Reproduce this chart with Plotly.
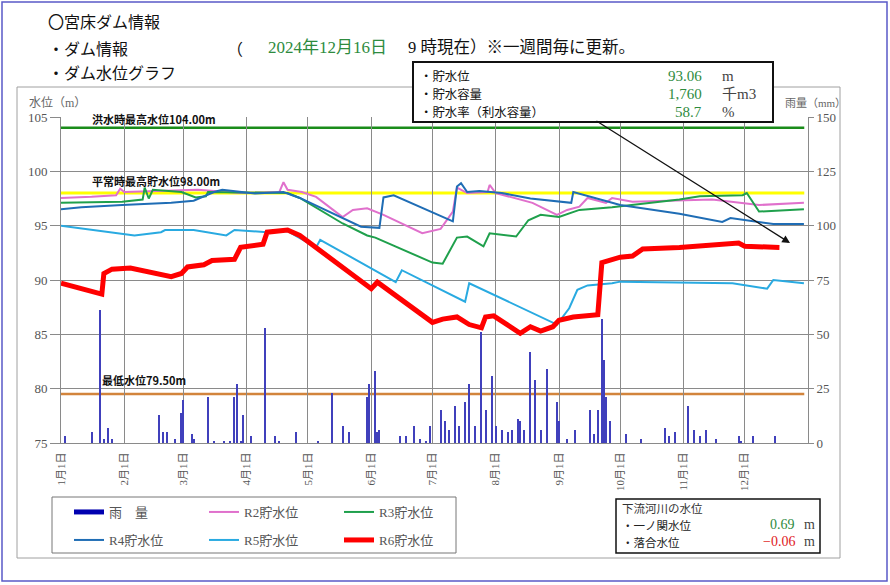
import plotly.graph_objects as go
import pandas as pd

# ---------------- data ----------------
month_starts = ["2024-01-01", "2024-02-01", "2024-03-01", "2024-04-01", "2024-05-01", "2024-06-01",
                "2024-07-01", "2024-08-01", "2024-09-01", "2024-10-01", "2024-11-01", "2024-12-01"]
month_labels = ["1月1日", "2月1日", "3月1日", "4月1日", "5月1日", "6月1日",
                "7月1日", "8月1日", "9月1日", "10月1日", "11月1日", "12月1日"]

r2_dates = ["2024-01-01", "2024-01-16", "2024-01-28", "2024-01-30", "2024-02-01", "2024-03-08", "2024-03-29",
            "2024-04-17", "2024-04-19", "2024-04-21", "2024-04-28", "2024-05-05", "2024-05-13", "2024-05-18",
            "2024-05-23", "2024-05-30", "2024-06-07", "2024-06-26", "2024-07-05", "2024-07-11", "2024-07-13",
            "2024-07-18", "2024-07-28", "2024-07-29", "2024-08-01", "2024-08-19", "2024-08-31", "2024-09-05",
            "2024-09-11", "2024-09-15", "2024-09-24", "2024-09-27", "2024-10-07", "2024-11-15", "2024-12-08",
            "2024-12-30"]
r2_vals = [97.55, 97.65, 97.8, 98.4, 98.1, 98.3, 98.0,
           98.1, 99.0, 98.3, 98.1, 97.65, 96.5, 95.8,
           96.45, 96.6, 96.0, 94.3, 94.7, 96.3, 98.5,
           98.0, 98.1, 98.75, 98.0, 97.1, 96.0, 96.45,
           96.75, 97.55, 97.1, 97.55, 97.2, 97.4, 96.9,
           97.1]

r3_dates = ["2024-01-01", "2024-01-31", "2024-02-10", "2024-02-11", "2024-02-13", "2024-02-15", "2024-02-29",
            "2024-03-07", "2024-03-12", "2024-03-13", "2024-04-21", "2024-04-27", "2024-05-18", "2024-05-30",
            "2024-06-03", "2024-07-01", "2024-07-06", "2024-07-09", "2024-07-13", "2024-07-18", "2024-07-26",
            "2024-07-29", "2024-08-11", "2024-08-17", "2024-08-23", "2024-09-01", "2024-09-11", "2024-09-27",
            "2024-10-30", "2024-11-09", "2024-11-30", "2024-12-02", "2024-12-08", "2024-12-30"]
r3_vals = [97.1, 97.2, 97.4, 98.5, 97.5, 98.3, 98.1,
           97.6, 97.7, 98.1, 98.0, 97.55, 95.2, 94.1,
           93.9, 91.6, 91.5, 92.5, 93.9, 94.0, 93.1,
           94.3, 94.0, 95.5, 96.0, 95.8, 96.45, 96.7,
           97.4, 97.7, 97.8, 98.0, 96.3, 96.5]

r4_dates = ["2024-01-01", "2024-01-11", "2024-01-31", "2024-02-24", "2024-03-06", "2024-03-16", "2024-03-20",
            "2024-04-05", "2024-04-19", "2024-04-27", "2024-05-27", "2024-06-05", "2024-06-07", "2024-06-12",
            "2024-07-11", "2024-07-13", "2024-07-15", "2024-07-18", "2024-07-24", "2024-08-04", "2024-08-18",
            "2024-09-07", "2024-09-08", "2024-09-18", "2024-10-01", "2024-10-30", "2024-11-20", "2024-11-24",
            "2024-12-02", "2024-12-15", "2024-12-30"]
r4_vals = [96.5, 96.7, 96.9, 97.1, 97.3, 98.1, 98.3,
           97.95, 98.1, 97.55, 94.9, 94.8, 97.6, 97.8,
           95.4, 98.6, 98.9, 98.1, 98.2, 98.0, 97.5,
           97.1, 98.1, 97.6, 96.9, 96.1, 95.35, 95.7,
           95.5, 95.15, 95.15]

r5_dates = ["2024-01-01", "2024-02-06", "2024-02-19", "2024-02-21", "2024-03-06", "2024-03-22", "2024-03-26",
            "2024-04-11", "2024-04-21", "2024-05-05", "2024-05-07", "2024-06-13", "2024-06-16", "2024-07-17",
            "2024-07-19", "2024-08-31", "2024-09-06", "2024-09-10", "2024-09-15", "2024-09-27", "2024-10-01",
            "2024-11-25", "2024-12-12", "2024-12-15", "2024-12-30"]
r5_vals = [95.0, 94.1, 94.4, 94.6, 94.6, 94.1, 94.6,
           94.4, 94.5, 93.0, 93.7, 89.8, 90.9, 88.0,
           89.7, 85.9, 87.4, 89.1, 89.5, 89.7, 89.85,
           89.7, 89.2, 90.0, 89.7]

r6_dates = ["2024-01-01", "2024-01-21", "2024-01-22", "2024-01-26", "2024-02-04", "2024-02-24", "2024-02-29",
            "2024-03-03", "2024-03-11", "2024-03-15", "2024-03-26", "2024-03-29", "2024-04-09", "2024-04-11",
            "2024-04-21", "2024-04-27", "2024-06-01", "2024-06-04", "2024-07-01", "2024-07-06", "2024-07-13",
            "2024-07-19", "2024-07-25", "2024-07-27", "2024-07-31", "2024-08-13", "2024-08-18", "2024-08-23",
            "2024-08-29", "2024-09-01", "2024-09-08", "2024-09-20", "2024-09-22", "2024-10-01", "2024-10-07",
            "2024-10-12", "2024-10-30", "2024-11-15", "2024-11-28", "2024-12-01", "2024-12-18"]
r6_vals = [89.7, 88.7, 90.6, 91.0, 91.1, 90.3, 90.6,
           91.2, 91.4, 91.8, 91.9, 93.0, 93.3, 94.4,
           94.6, 94.1, 89.2, 89.8, 86.1, 86.4, 86.6,
           85.9, 85.6, 86.6, 86.7, 85.1, 85.7, 85.3,
           85.7, 86.3, 86.6, 86.8, 91.6, 92.1, 92.2,
           92.85, 93.0, 93.2, 93.4, 93.1, 93.0]

# rainfall: day of year (0 = Jan 1) and mm
rain_day = [2, 15, 19, 21, 23, 25, 48, 50, 52, 56, 59, 60, 64, 65, 72, 75, 80, 83, 85, 86, 88, 89, 93,
            100, 105, 107, 115, 126, 133, 138, 141, 150, 151, 154, 155, 156, 166, 169, 173, 176, 179,
            181, 186, 188, 190, 193, 195, 198, 200, 203, 206, 208, 211, 213, 216, 219, 221, 224, 225,
            227, 230, 232, 235, 238, 243, 244, 248, 252, 259, 261, 263, 265, 266, 267, 269, 277, 284,
            296, 298, 301, 307, 310, 313, 316, 321, 332, 333, 339, 350]
rain_mm = [3, 5, 61, 2, 7, 2, 13, 5, 5, 2, 14, 20, 4, 2, 21, 1, 1, 1, 21, 27, 1, 13, 3,
           53, 3, 1, 5, 1, 23, 8, 5, 21, 27, 33, 5, 6, 3, 3, 8, 2, 1,
           8, 15, 10, 6, 17, 8, 19, 27, 8, 51, 15, 31, 8, 6, 5, 6, 11, 10,
           6, 42, 29, 6, 34, 19, 10, 2, 6, 15, 4, 15, 57, 38, 21, 10, 4, 2,
           7, 3, 5, 17, 6, 3, 6, 2, 3, 1, 3, 3]

flood_level = 104.0
normal_level = 98.0
min_level = 79.5

# ---------------- geometry helpers (pixel -> paper) ----------------
L, R, T, B = 61, 82, 117, 142
W, H = 890, 585
PW, PH = W - L - R, H - T - B


def X(px):
    return (px - L) / PW


def Y(py):
    return (H - B - py) / PH


JP = "Noto Sans CJK JP"
MIX = "Liberation Serif, Noto Sans CJK JP"
GRID = "#8a8a8a"

rain_dates = pd.Timestamp("2024-01-01") + pd.to_timedelta(rain_day, unit="D")

fig = go.Figure()

fig.add_trace(go.Bar(x=rain_dates, y=rain_mm, yaxis="y", width=86400000 * 0.5,
                     marker=dict(color="#4040bc", line=dict(width=0)), showlegend=False,
                     hoverinfo="skip"))
# legend entry for rain (drawn as thick bar line)
fig.add_trace(go.Scatter(x=[None], y=[None], yaxis="y2", mode="lines", name="雨　量",
                         line=dict(color="#0000b0", width=5), legend="legend"))

series = [
    ("R2貯水位", r2_dates, r2_vals, "#e070cc", 2, "legend"),
    ("R3貯水位", r3_dates, r3_vals, "#1fa04c", 2, "legend"),
    ("R4貯水位", r4_dates, r4_vals, "#1f6db5", 2, "legend2"),
    ("R5貯水位", r5_dates, r5_vals, "#29aae1", 2, "legend2"),
    ("R6貯水位", r6_dates, r6_vals, "#ff0000", 5, "legend2"),
]
for name, d, v, c, w, lg in series:
    fig.add_trace(go.Scatter(x=d, y=v, yaxis="y2", mode="lines", name=name,
                             line=dict(color=c, width=w), legend=lg, hoverinfo="skip"))

shapes = []
# reference levels
for lvl, col, wd in [(flood_level, "#1a8c1a", 2.5), (normal_level, "#ffff00", 3), (min_level, "#d2843c", 2.5)]:
    shapes.append(dict(type="line", xref="paper", yref="y2", x0=0, x1=0.995, y0=lvl, y1=lvl,
                       line=dict(color=col, width=wd), layer="between"))
# outer frame and inner frame
shapes.append(dict(type="rect", xref="paper", yref="paper", x0=X(2), x1=X(887), y0=Y(2), y1=Y(581),
                   line=dict(color="#5a5ac8", width=1.5), layer="below"))
shapes.append(dict(type="rect", xref="paper", yref="paper", x0=X(17), x1=X(840), y0=Y(87), y1=Y(558),
                   line=dict(color="#a0a0a0", width=1), layer="below"))
# info box
shapes.append(dict(type="rect", xref="paper", yref="paper", x0=X(413), x1=X(773), y0=Y(62), y1=Y(122),
                   line=dict(color="#111111", width=2), fillcolor="white", layer="above"))
# legend box
shapes.append(dict(type="rect", xref="paper", yref="paper", x0=X(52), x1=X(456), y0=Y(497), y1=Y(553),
                   line=dict(color="#777777", width=1), layer="below"))
# downstream box
shapes.append(dict(type="rect", xref="paper", yref="paper", x0=X(616), x1=X(820), y0=Y(499), y1=Y(553),
                   line=dict(color="#111111", width=1.5), fillcolor="white", layer="above"))

ann = []


def txt(t, px, py, size=12, color="#222", family=JP, anchor="left", bold=False):
    if bold:
        t = "<b>" + t + "</b>"
    ann.append(dict(text=t, x=X(px), y=Y(py), xref="paper", yref="paper", showarrow=False,
                    xanchor=anchor, yanchor="middle", font=dict(size=size, color=color, family=family)))


# header
txt("〇宮床ダム情報", 46, 21, 16, "#111")
txt("・ダム情報", 46, 48, 16, "#111")
txt("（", 225, 48, 16, "#111")
txt("2024年12月16日", 266, 48, 17, "#2e8b3e", MIX)
txt("9 時現在）※一週間毎に更新。", 406, 48, 16.5, "#111", MIX)
txt("・ダム水位グラフ", 46, 72, 16, "#111")

# info box
GREEN = "#2e8b3e"
rows = [("・貯水位", "93.06", "m", 76), ("・貯水容量", "1,760", "千m3", 94), ("・貯水率（利水容量）", "58.7", "%", 112)]
for lab, val, unit, py in rows:
    txt(lab, 418, py, 12.4, "#111")
    txt(val, 704, py, 15, GREEN, MIX, anchor="right")
    txt(unit, 720, py, 15, "#444", MIX)

# arrow
ann.append(dict(text="", x=X(790), y=Y(243), xref="paper", yref="paper", showarrow=True,
                ax=595 - 790, ay=120 - 243, axref="pixel", ayref="pixel",
                arrowhead=2, arrowsize=1.2, arrowwidth=1.3, arrowcolor="#111"))

# level labels
txt("洪水時最高水位104.00m", 90, 119, 11, "#111", JP, bold=True)
txt("平常時最高貯水位98.00m", 90, 181, 11, "#111", JP, bold=True)
txt("最低水位79.50m", 100, 380, 11, "#111", JP, bold=True)

# axis titles
txt("水位（m）", 27, 103, 12, "#666", MIX)
txt("雨量（mm）", 783, 103, 11, "#666", MIX)

# downstream box
txt("下流河川の水位", 620, 508, 11.5, "#333")
txt("・一ノ関水位", 620, 524.5, 11.5, "#222")
txt("0.69", 797, 524.5, 14, GREEN, MIX, anchor="right")
txt("m", 802, 524.5, 14, "#444", MIX)
txt("・落合水位", 620, 541.5, 11.5, "#222")
txt("−0.06", 797, 541.5, 14, "#e0201e", MIX, anchor="right")
txt("m", 802, 541.5, 14, "#444", MIX)

legend_common = dict(orientation="h", entrywidth=90, entrywidthmode="pixels", xanchor="left",
                     yanchor="middle", bgcolor="rgba(0,0,0,0)", font=dict(size=13, color="#555", family=MIX),
                     itemclick=False, itemdoubleclick=False, tracegroupgap=0)

fig.update_layout(
    width=W, height=H, autosize=False,
    margin=dict(l=L, r=R, t=T, b=B),
    paper_bgcolor="white", plot_bgcolor="white",
    showlegend=True,
    bargap=0,
    xaxis=dict(type="date", range=["2024-01-01", "2025-01-01"], tickvals=month_starts, ticktext=month_labels,
               tickangle=-90, showgrid=True, gridcolor=GRID, gridwidth=1, showline=True, linecolor=GRID,
               ticks="outside", ticklen=4, tickcolor="rgba(0,0,0,0)", zeroline=False,
               tickfont=dict(size=11, color="#555", family=MIX), fixedrange=True),
    yaxis=dict(side="right", range=[0, 150], tickvals=[0, 25, 50, 75, 100, 125, 150], showgrid=False,
               showline=True, linecolor=GRID, ticks="outside", ticklen=5, tickcolor=GRID, zeroline=False,
               tickfont=dict(size=13, color="#555", family="Liberation Serif"), fixedrange=True),
    yaxis2=dict(side="left", overlaying="y", range=[75, 105], tickvals=[75, 80, 85, 90, 95, 100, 105],
                showgrid=True, gridcolor=GRID, gridwidth=1, showline=True, linecolor=GRID, ticks="outside",
                ticklen=10, tickcolor=GRID, zeroline=False,
                tickfont=dict(size=13, color="#555", family="Liberation Serif"), fixedrange=True),
    legend=dict(x=X(69), y=Y(512), **legend_common),
    legend2=dict(x=X(69), y=Y(540), **legend_common),
    shapes=shapes,
    annotations=ann,
)

fig.write_html("out.html")
